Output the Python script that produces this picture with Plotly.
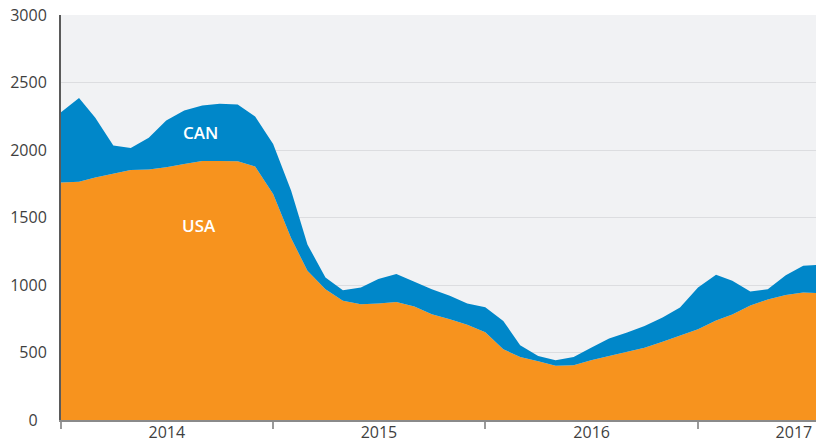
import pandas as pd
import plotly.graph_objects as go

# Monthly observations, Jan 2014 - Aug 2017
months = pd.date_range("2014-01-01", periods=44, freq="MS").strftime("%Y-%m-%d").tolist()

usa = [1760, 1765, 1797, 1827, 1852, 1855, 1872, 1897, 1919, 1919, 1917, 1877,
       1674, 1346, 1105, 969, 883, 858, 863, 875, 841, 784, 747, 705,
       650, 524, 467, 435, 402, 405, 443, 475, 504, 536, 579, 623,
       673, 737, 782, 848, 892, 926, 944, 940]

can = [520, 621, 441, 206, 163, 235, 346, 395, 410, 423, 420, 371,
       371, 353, 195, 87, 79, 123, 181, 206, 183, 185, 173, 158,
       185, 210, 87, 40, 41, 62, 93, 128, 144, 161, 180, 210,
       308, 339, 249, 104, 77, 147, 198, 210]

y_ticks = [0, 500, 1000, 1500, 2000, 2500, 3000]
y_tick_text = ["0\u2007", "500", "1000", "1500", "2000", "2500", "3000"]
year_boundaries = ["2014-01-01", "2015-01-01", "2016-01-01", "2017-01-01"]
year_label_pos = ["2014-07-02", "2015-07-02", "2016-07-02", "2017-06-15"]
year_labels = ["2014", "2015", "2016", "2017"]

series_labels = [("CAN", "2014-08-29", 2129), ("USA", "2014-08-27", 1439)]

ORANGE = "#F7931E"
BLUE = "#0087C9"

fig = go.Figure()
fig.add_trace(go.Scatter(x=months, y=usa, name="USA", stackgroup="one", mode="lines",
                         line=dict(width=0, color=ORANGE), fillcolor=ORANGE, hoverinfo="x+y"))
fig.add_trace(go.Scatter(x=months, y=can, name="CAN", stackgroup="one", mode="lines",
                         line=dict(width=0, color=BLUE), fillcolor=BLUE, hoverinfo="x+y"))

for text, xv, yv in series_labels:
    fig.add_annotation(x=xv, y=yv, text=text, showarrow=False,
                       font=dict(family="Open Sans", size=17, color="white", weight=600))

# The page body adds an 8px margin, so the figure is sized to fit inside it.
fig.update_layout(
    width=808, height=432,
    margin=dict(l=53, r=0, t=7, b=20, autoexpand=False),
    paper_bgcolor="white", plot_bgcolor="#F1F2F4",
    showlegend=False,
    font=dict(family="Open Sans", size=16, color="#3F3F3F"),
)
fig.update_xaxes(
    type="date", range=["2014-01-01", "2017-07-23"], automargin=False,
    tickvals=year_label_pos, ticktext=year_labels, ticks="",
    tickfont=dict(size=16), ticklabelstandoff=-3, ticklabeloverflow="allow",
    minor=dict(tickvals=year_boundaries, ticks="outside", ticklen=7,
               tickwidth=1.5, tickcolor="#9A9A9A", showgrid=False),
    showline=True, linecolor="#8A8A8A", linewidth=1.5,
    showgrid=False, zeroline=False,
)
fig.update_yaxes(
    range=[0, 3000], tickvals=y_ticks, ticktext=y_tick_text, automargin=False,
    showline=True, linecolor="#5A5A5A", linewidth=2,
    showgrid=True, gridcolor="#DCDDE0", gridwidth=1,
    ticks="", ticklabelstandoff=9, ticklabeloverflow="allow", zeroline=False,
)

fig.write_html("out.html", config={"displayModeBar": False})
